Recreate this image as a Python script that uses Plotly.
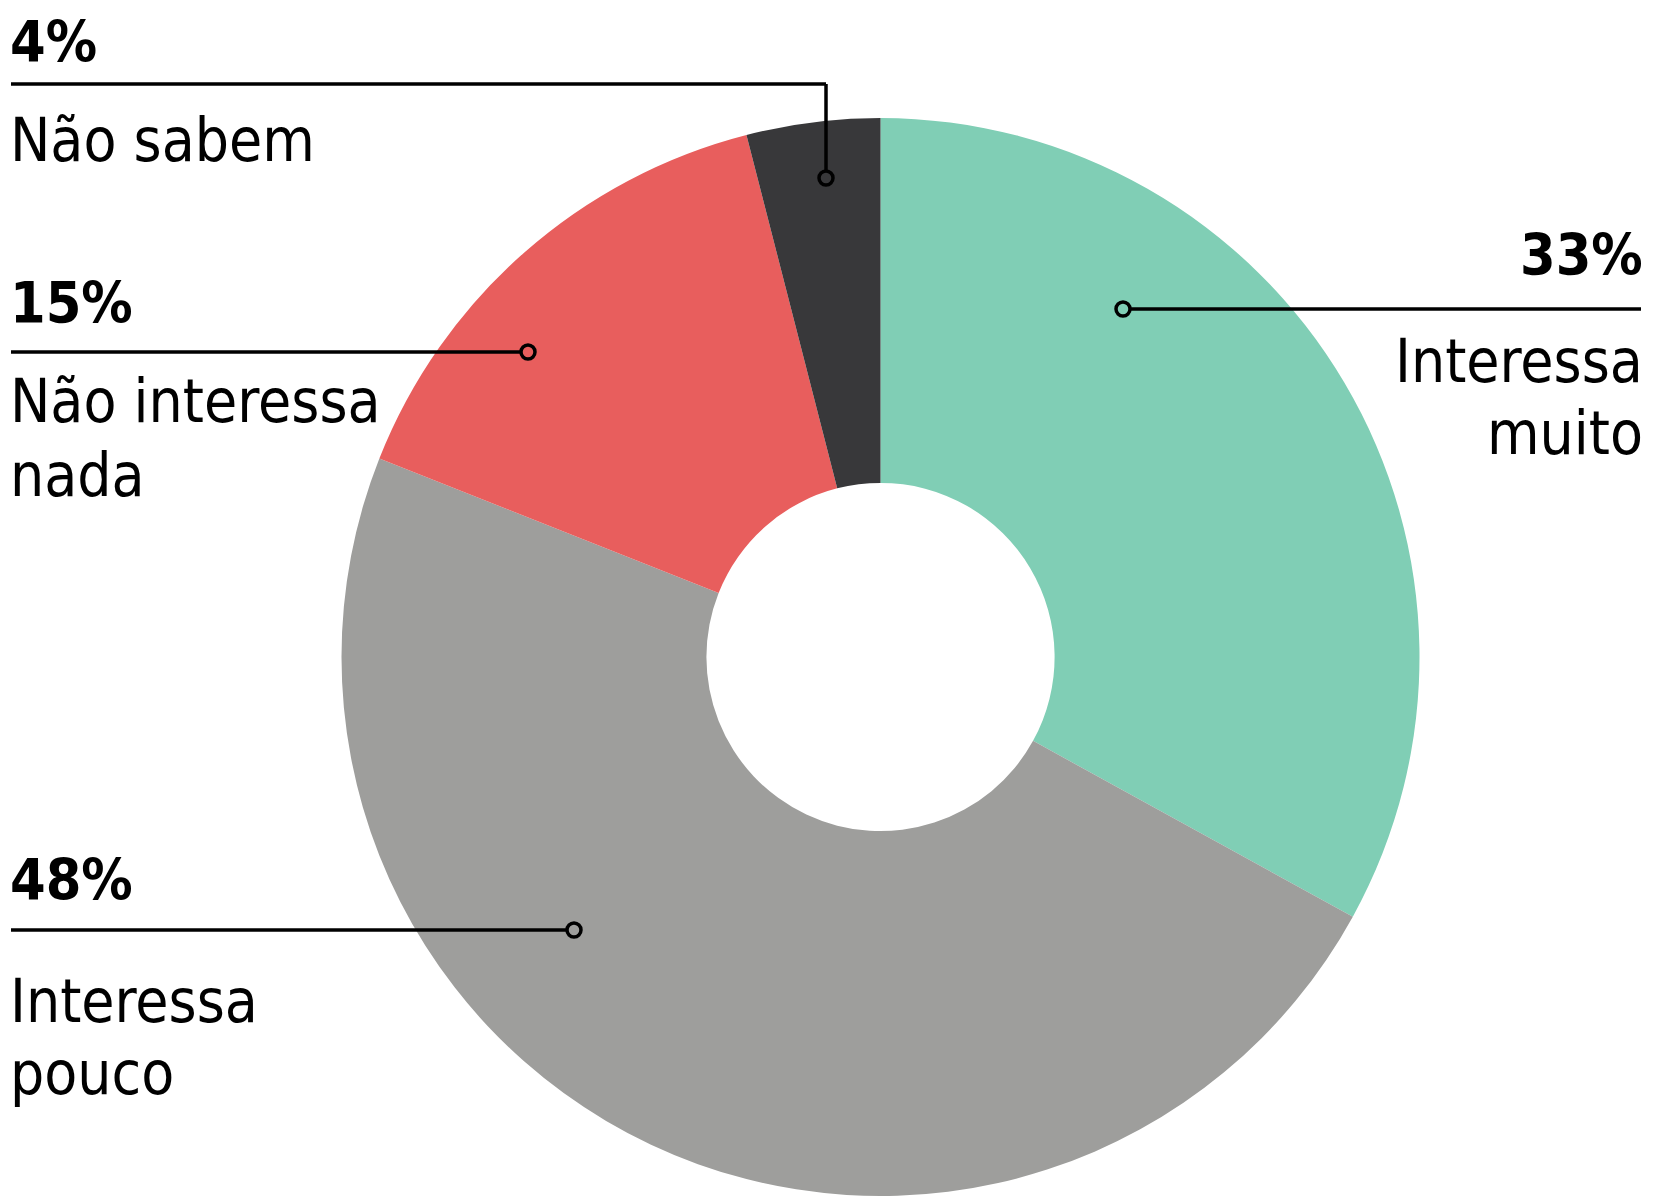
import plotly.graph_objects as go

W, H = 1665, 1196
OFFSET = 8  # page body margin pushes the figure 8px right/down

labels = ["Interessa muito", "Interessa pouco", "Não interessa nada", "Não sabem"]
values = [33, 48, 15, 4]
colors = ["#80CEB5", "#9E9E9C", "#E85E5D", "#38383A"]

pct_text = ["33%", "48%", "15%", "4%"]
name_lines = [["Interessa", "muito"], ["Interessa", "pouco"], ["Não interessa", "nada"], ["Não sabem"]]

FONT = "Liberation Sans Narrow, DejaVu Sans Condensed, Roboto Condensed, Arial Narrow, sans-serif"


def px(x):
    return (x - OFFSET) / W


def py(y):
    return 1 - (y - OFFSET) / H


fig = go.Figure()

fig.add_trace(go.Pie(
    labels=labels,
    values=values,
    marker=dict(colors=colors, line=dict(width=0)),
    hole=0.323,
    sort=False,
    direction="clockwise",
    rotation=0,
    textinfo="none",
    hoverinfo="label+percent",
    showlegend=False,
    domain=dict(x=[px(341), px(1420)], y=[py(1196), py(118)]),
))

# label layout: (pct center y, leader line points, dot, name line center ys, side)
layout_spec = [
    dict(pct_y=255, line=[(1130, 309), (1641, 309)], dot=(1123, 309), name_y=[361, 433], side="right"),
    dict(pct_y=880, line=[(11, 930), (567, 930)], dot=(574, 930), name_y=[1001, 1073], side="left"),
    dict(pct_y=303, line=[(11, 352), (521, 352)], dot=(528, 352), name_y=[401, 475], side="left"),
    dict(pct_y=42, line=[(11, 84), (826, 84), (826, 171)], dot=(826, 178), name_y=[140], side="left"),
]

annotations = []
shapes = []
for i, spec in enumerate(layout_spec):
    if spec["side"] == "left":
        ax, anchor = px(8), "left"
    else:
        ax, anchor = px(1645), "right"
    annotations.append(dict(
        x=ax, y=py(spec["pct_y"]), xref="paper", yref="paper",
        text="<b>" + pct_text[i] + "</b>", showarrow=False,
        xanchor=anchor, yanchor="middle",
        font=dict(family=FONT, size=57, color="#000000"),
    ))
    for line_txt, ly in zip(name_lines[i], spec["name_y"]):
        annotations.append(dict(
            x=ax, y=py(ly), xref="paper", yref="paper",
            text=line_txt, showarrow=False,
            xanchor=anchor, yanchor="middle",
            font=dict(family=FONT, size=60, color="#000000"),
        ))
    pts = spec["line"]
    for (x0, y0), (x1, y1) in zip(pts[:-1], pts[1:]):
        shapes.append(dict(
            type="line", xref="paper", yref="paper",
            x0=px(x0), y0=py(y0), x1=px(x1), y1=py(y1),
            line=dict(color="#000000", width=3.5),
        ))
    dx, dy = spec["dot"]
    shapes.append(dict(
        type="circle", xref="paper", yref="paper",
        xsizemode="pixel", ysizemode="pixel",
        xanchor=px(dx), yanchor=py(dy),
        x0=-7, x1=7, y0=-7, y1=7,
        line=dict(color="#000000", width=3.5),
        fillcolor="rgba(0,0,0,0)",
    ))

fig.update_layout(
    width=W,
    height=H,
    margin=dict(l=0, r=0, t=0, b=0),
    paper_bgcolor="white",
    plot_bgcolor="white",
    annotations=annotations,
    shapes=shapes,
    showlegend=False,
)

fig.write_html("out.html")
